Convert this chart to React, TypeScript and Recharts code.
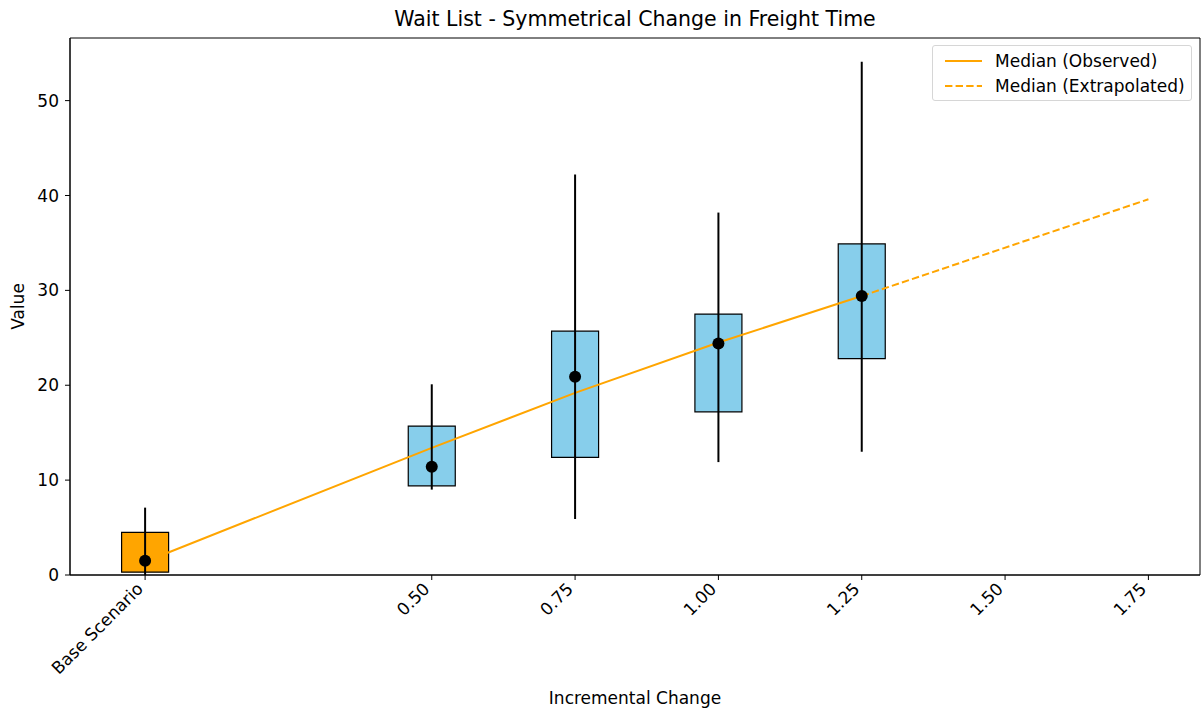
import React from "react";
import {
  ComposedChart,
  Line,
  Scatter,
  XAxis,
  YAxis,
  ReferenceArea,
} from "recharts";

// box positions on the x axis (Base Scenario sits at 0)
const positions = [0, 0.5, 0.75, 1.0, 1.25];
const boxLow = [0.3, 9.4, 12.4, 17.2, 22.8];
const boxHigh = [4.5, 15.7, 25.7, 27.5, 34.9];
const whiskerLow = [0.0, 9.0, 5.9, 11.9, 13.0];
const whiskerHigh = [7.1, 20.1, 42.2, 38.2, 54.1];
const medians = [1.5, 11.4, 20.9, 24.4, 29.4];

// fitted median trend
const observedX = [0, 0.5, 0.75, 1.0, 1.25];
const observedY = [1.4, 13.4, 19.2, 24.5, 29.4];
const extrapolatedX = [1.25, 1.75];
const extrapolatedY = [29.4, 39.6];

const xTicks = [0, 0.5, 0.75, 1.0, 1.25, 1.5, 1.75];
const xTickLabels = ["Base Scenario", "0.50", "0.75", "1.00", "1.25", "1.50", "1.75"];
const yTicks = [0, 10, 20, 30, 40, 50];

const X_DOMAIN: [number, number] = [-0.131, 1.84];
const Y_DOMAIN: [number, number] = [0, 56.6];
const BOX_HALF = 0.041;
const FONT = "'DejaVu Sans', sans-serif";
const FS = 17;

const medianPoints = positions.map((x, i) => ({ x, y: medians[i] }));
const observed = observedX.map((x, i) => ({ x, y: observedY[i] }));
const extrapolated = extrapolatedX.map((x, i) => ({ x, y: extrapolatedY[i] }));
const whiskers = positions.map((x, i) => [
  { x, y: whiskerLow[i] },
  { x, y: whiskerHigh[i] },
]);

const XTick = (props: any) => {
  const { x, y, payload } = props;
  const idx = xTicks.indexOf(payload.value);
  const label = idx >= 0 ? xTickLabels[idx] : String(payload.value);
  return (
    <g transform={`translate(${x - 1},${y + 10})`}>
      <text
        x={0}
        y={0}
        textAnchor="end"
        transform="rotate(-45)"
        fontSize={FS}
        fontFamily={FONT}
        fill="#000"
      >
        {label}
      </text>
    </g>
  );
};

export default function App() {
  return (
    <div
      style={{
        position: "relative",
        width: 1202,
        height: 713,
        overflow: "hidden",
        fontFamily: FONT,
        background: "#fff",
      }}
    >
      <style>{`html, body { margin: 0; padding: 0; overflow: hidden; }`}</style>
      <div
        style={{
          position: "absolute",
          top: 6,
          left: 70,
          width: 1130,
          textAlign: "center",
          fontSize: 20.5,
          color: "#000",
          lineHeight: "26px",
        }}
      >
        Wait List - Symmetrical Change in Freight Time
      </div>
      <ComposedChart
        width={1202}
        height={713}
        margin={{ top: 38, right: 2, bottom: 0, left: 0 }}
      >
        <XAxis
          type="number"
          dataKey="x"
          domain={X_DOMAIN}
          ticks={xTicks}
          allowDataOverflow
          tick={<XTick />}
          tickSize={5}
          tickMargin={0}
          height={138}
          stroke="#000"
          interval={0}
        />
        <YAxis
          type="number"
          dataKey="y"
          domain={Y_DOMAIN}
          ticks={yTicks}
          allowDataOverflow
          width={70}
          tickSize={5}
          tickMargin={6}
          stroke="#000"
          tick={{ fill: "#000", fontSize: FS, fontFamily: FONT }}
          label={{
            value: "Value",
            angle: -90,
            position: "insideLeft",
            offset: 18,
            style: { fill: "#000", fontSize: FS, fontFamily: FONT, textAnchor: "middle" },
          }}
        />
        {positions.map((x, i) => (
          <ReferenceArea
            key={`box-${i}`}
            x1={x - BOX_HALF}
            x2={x + BOX_HALF}
            y1={boxLow[i]}
            y2={boxHigh[i]}
            fill={i === 0 ? "#FFA500" : "#87CEEB"}
            fillOpacity={1}
            stroke="#000"
            strokeWidth={1.2}
            ifOverflow="visible"
          />
        ))}
        <Line
          data={observed}
          dataKey="y"
          stroke="#FFA500"
          strokeWidth={2}
          dot={false}
          activeDot={false}
          isAnimationActive={false}
          type="linear"
        />
        <Line
          data={extrapolated}
          dataKey="y"
          stroke="#FFA500"
          strokeWidth={2}
          strokeDasharray="7.4 3.2"
          dot={false}
          activeDot={false}
          isAnimationActive={false}
          type="linear"
        />
        {whiskers.map((seg, i) => (
          <Line
            key={`wh-${i}`}
            data={seg}
            dataKey="y"
            stroke="#000"
            strokeWidth={2}
            dot={false}
            activeDot={false}
            isAnimationActive={false}
            type="linear"
          />
        ))}
        <Scatter
          data={medianPoints}
          dataKey="y"
          fill="#000"
          isAnimationActive={false}
          shape={(p: any) => <circle cx={p.cx} cy={p.cy} r={6} fill="#000" />}
        />
        {/* frame around the plot area */}
        <ReferenceArea
          x1={X_DOMAIN[0]}
          x2={X_DOMAIN[1]}
          y1={Y_DOMAIN[0]}
          y2={Y_DOMAIN[1]}
          fill="none"
          stroke="#000"
          strokeWidth={1}
          ifOverflow="visible"
        />
      </ComposedChart>
      <div
        style={{
          position: "absolute",
          top: 688,
          left: 70,
          width: 1130,
          textAlign: "center",
          fontSize: FS,
          color: "#000",
        }}
      >
        Incremental Change
      </div>
      <div
        style={{
          position: "absolute",
          top: 45,
          left: 932,
          width: 260,
          height: 56,
          border: "1px solid #d6d6d6",
          borderRadius: 3,
          background: "rgba(255,255,255,0.8)",
          fontSize: FS,
          color: "#000",
          boxSizing: "border-box",
        }}
      >
        {[
          { label: "Median (Observed)", dash: undefined },
          { label: "Median (Extrapolated)", dash: "7.4 3.2" },
        ].map((item, i) => (
          <div
            key={item.label}
            style={{
              position: "absolute",
              left: 12,
              top: 4 + i * 25,
              height: 22,
              display: "flex",
              alignItems: "center",
            }}
          >
            <svg width={38} height={20}>
              <line
                x1={0}
                y1={10}
                x2={37}
                y2={10}
                stroke="#FFA500"
                strokeWidth={2}
                strokeDasharray={item.dash}
              />
            </svg>
            <span style={{ marginLeft: 12, whiteSpace: "nowrap" }}>{item.label}</span>
          </div>
        ))}
      </div>
    </div>
  );
}
